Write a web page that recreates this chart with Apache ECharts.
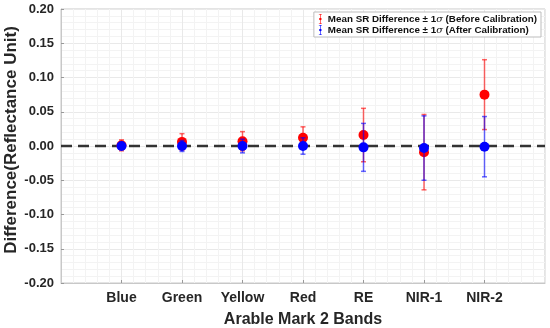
<!DOCTYPE html>
<html>
<head>
<meta charset="utf-8">
<script src="https://cdn.jsdelivr.net/npm/echarts@6/dist/echarts.min.js"></script>
<style>html,body{margin:0;padding:0;background:#fff}#c{width:550px;height:328px}</style>
</head>
<body>
<div id="c"></div>
<script>
var categories = ['Blue', 'Green', 'Yellow', 'Red', 'RE', 'NIR-1', 'NIR-2'];
var beforeMean = [0.001, 0.006, 0.007, 0.012, 0.016, -0.009, 0.075];
var beforeStd  = [0.008, 0.012, 0.014, 0.016, 0.039, 0.055, 0.051];
var afterMean  = [0.000, 0.000, 0.000, 0.000, -0.002, -0.003, -0.001];
var afterStd   = [0.005, 0.008, 0.010, 0.012, 0.035, 0.047, 0.044];
var yTicks = ['-0.20', '-0.15', '-0.10', '-0.05', '0.00', '0.05', '0.10', '0.15', '0.20'];

var RED = '#ff0000', BLUE = '#0000ff';

function errData(mean, std) {
  return mean.map(function (m, i) { return [i + 1, m - std[i], m + std[i]]; });
}
function ptData(mean) {
  return mean.map(function (m, i) { return [i + 1, m]; });
}
function errRender(color) {
  return function (params, api) {
    var x = api.value(0);
    var lo = api.coord([x, api.value(1)]);
    var hi = api.coord([x, api.value(2)]);
    var w = 2.5;
    var st = { stroke: color, lineWidth: 1.5, opacity: 0.6 };
    return {
      type: 'group',
      children: [
        { type: 'line', shape: { x1: hi[0], y1: hi[1], x2: lo[0], y2: lo[1] }, style: st },
        { type: 'line', shape: { x1: hi[0] - w, y1: hi[1], x2: hi[0] + w, y2: hi[1] }, style: st },
        { type: 'line', shape: { x1: lo[0] - w, y1: lo[1], x2: lo[0] + w, y2: lo[1] }, style: st }
      ]
    };
  };
}

var iconPath = 'path://M2,0 H8 V1.2 H2 Z M4.4,0 H5.6 V20 H4.4 Z M2,18.8 H8 V20 H2 Z M5,7.5 A2.5,2.5 0 1 1 4.99,7.5 Z';
var nameB = 'Mean SR Difference \u00b1 1\u03c3 (Before Calibration)';
var nameA = 'Mean SR Difference \u00b1 1\u03c3 (After Calibration)';

var chart = echarts.init(document.getElementById('c'));
var fontFam = 'Liberation Sans, Arial, Helvetica, sans-serif';
chart.setOption({
  animation: false,
  textStyle: { fontFamily: fontFam },
  grid: { left: 61, right: 5, top: 9, bottom: 45, containLabel: false, outerBoundsMode: 'none', show: true, borderColor: '#c8c8c8', borderWidth: 1, backgroundColor: '#fff' },
  legend: {
    top: 12, right: 9, orient: 'vertical',
    itemWidth: 5, itemHeight: 10, itemGap: 1,
    padding: [2, 4, 2, 5],
    borderColor: '#bdbdbd', borderWidth: 1, backgroundColor: '#fff',
    selectedMode: false,
    data: [
      { name: nameB, icon: iconPath, itemStyle: { color: RED } },
      { name: nameA, icon: iconPath, itemStyle: { color: BLUE } }
    ],
    formatter: function (n) {
      var parts = n.split('\u03c3');
      return '{a|' + parts[0] + '}{i|\u03c3}{a|' + parts[1] + '}';
    },
    textStyle: {
      rich: {
        a: { fontSize: 9.8, fontWeight: 'bold', color: '#111', fontFamily: fontFam },
        i: { fontSize: 9.8, fontStyle: 'italic', color: '#111', fontFamily: 'DejaVu Serif, serif' }
      }
    }
  },
  xAxis: {
    type: 'value', min: 0, max: 8, interval: 1,
    name: 'Arable Mark 2 Bands', nameLocation: 'middle', nameGap: 29, nameMoveOverlap: false,
    nameTextStyle: { fontSize: 16, fontWeight: 'bold', color: '#262626' },
    axisLine: { show: true, onZero: false, lineStyle: { color: '#c8c8c8' } },
    axisTick: { show: true, inside: true, length: 3, lineStyle: { color: '#999' } },
    axisLabel: {
      fontSize: 14, fontWeight: 'bold', color: '#262626', margin: 8,
      showMinLabel: false, showMaxLabel: false,
      formatter: function (v) { var i = Math.round(v) - 1; return (i >= 0 && i < categories.length) ? categories[i] : ''; }
    },
    splitLine: { show: true, lineStyle: { color: '#e9e9e9', width: 1 } },
    minorTick: { show: false, splitNumber: 5 },
    minorSplitLine: { show: true, lineStyle: { color: '#f3f3f3', width: 1 } }
  },
  yAxis: {
    type: 'value', min: -0.2, max: 0.2, interval: 0.05,
    name: 'Difference(Reflectance Unit)', nameLocation: 'middle', nameGap: 41, nameMoveOverlap: false,
    nameTextStyle: { fontSize: 17, fontWeight: 'bold', color: '#262626', padding: [0, 0, 0, 12] },
    axisLine: { show: true, lineStyle: { color: '#c8c8c8' } },
    axisTick: { show: true, inside: true, length: 3, lineStyle: { color: '#999' } },
    axisLabel: {
      fontSize: 13, fontWeight: 'bold', color: '#262626', margin: 7,
      formatter: function (v) { return yTicks[Math.round((v + 0.2) / 0.05)]; }
    },
    splitLine: { show: true, lineStyle: { color: '#e9e9e9', width: 1 } },
    minorTick: { show: false, splitNumber: 5 },
    minorSplitLine: { show: true, lineStyle: { color: '#f3f3f3', width: 1 } }
  },
  series: [
    {
      type: 'line', name: 'zero', data: [[0, 0], [8, 0]], symbol: 'none', silent: true,
      lineStyle: { color: '#333', width: 2.4, type: [11, 6] }, z: 1
    },
    {
      type: 'custom', name: nameB, data: errData(beforeMean, beforeStd),
      renderItem: errRender(RED), encode: { x: 0, y: [1, 2] }, z: 2
    },
    {
      type: 'scatter', name: nameB, data: ptData(beforeMean), symbol: 'circle', symbolSize: 10,
      itemStyle: { color: RED, opacity: 1 }, z: 3
    },
    {
      type: 'custom', name: nameA, data: errData(afterMean, afterStd),
      renderItem: errRender(BLUE), encode: { x: 0, y: [1, 2] }, z: 4
    },
    {
      type: 'scatter', name: nameA, data: ptData(afterMean), symbol: 'circle', symbolSize: 10,
      itemStyle: { color: BLUE, opacity: 1 }, z: 5
    }
  ]
});
</script>
</body>
</html>
